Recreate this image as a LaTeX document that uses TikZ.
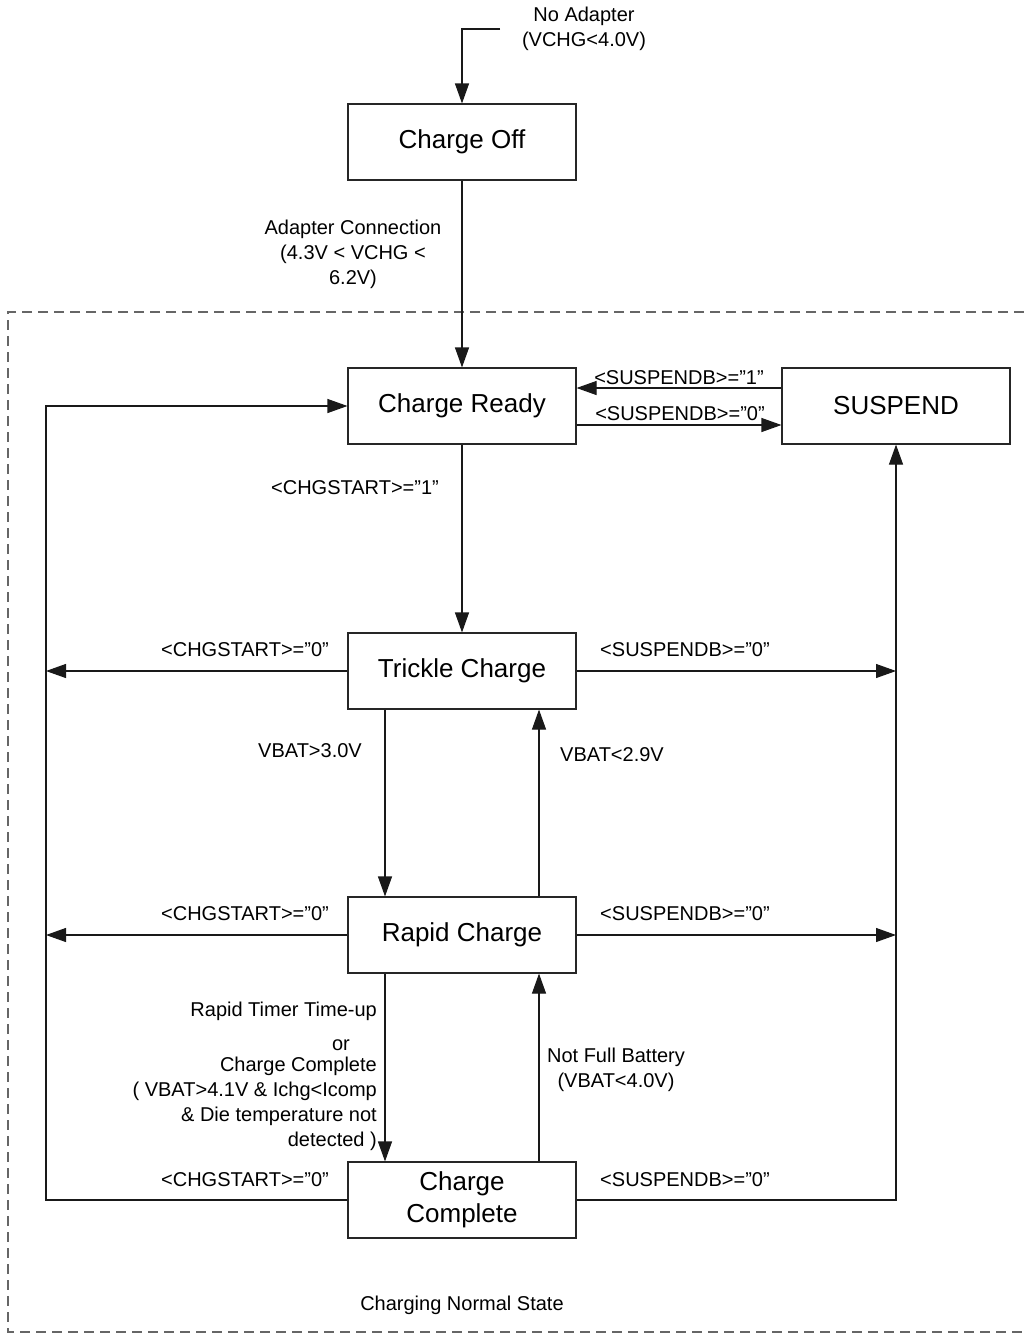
\documentclass[tikz,border=0pt]{standalone}
\usepackage{fontspec}
\setmainfont{Liberation Sans}
\usepackage{tikz}
\usetikzlibrary{calc,arrows.meta,positioning}

\begin{document}
\begin{tikzpicture}[x=1pt,y=-1pt]

  % Parameters
  \def\wstate{228pt}
  \def\hstate{76pt}
  \def\vsep{77pt}

  % Styles
  \tikzstyle{state}=[draw=black!85,line width=1.1pt,text centered,minimum width=\wstate,minimum height=\hstate,inner sep=0pt,font=\fontsize{26}{32}\selectfont]
  \tikzstyle{lbl}=[inner sep=0pt,font=\fontsize{20}{25}\selectfont]
  \tikzstyle{wire}=[draw=black!90,line width=1.1pt]
  \tikzstyle{arr}=[wire,-{Triangle[length=20pt,width=14pt]}]
  \tikzstyle{region}=[draw=black!60,line width=1.1pt,dash pattern=on 10pt off 6pt]

  \useasboundingbox (0,0) rectangle (1024,1334);

  % ===========================================================================

  % Outer region
  \draw[region] (1040,312) -- (8,312) -- (8,1332) -- (1040,1332);
  \node[lbl] (normal) at (462,1305) {Charging Normal State};

  % States
  \node[state] (off) at (462,142) {Charge Off};
  \node[state] (ready) at (462,406) {Charge Ready};
  \node[state] (susp) at (896,406) {SUSPEND};
  \node[state] (trickle) at (462,671) {Trickle Charge};
  \node[state] (rapid) at (462,935) {Rapid Charge};
  \node[state,align=center] (done) at (462,1200) {Charge\\Complete};

  % Bus lines on the left
  \coordinate (lbus) at (46,0);

  % Power on
  \coordinate (start) at (500,29);
  \draw[arr] (start) -| (off.north);
  \node[lbl,align=center] (noadp) at (584,29) {No Adapter\\(VCHG<4.0V)};

  \draw[arr] (off) -- (ready);
  \node[lbl,align=center] (adp) at (353,254) {Adapter Connection\\(4.3V < VCHG <\\6.2V)};

  % Suspend handshake
  \draw[arr] ([yshift=18pt]susp.west) -- ([yshift=18pt]ready.east);
  \node[lbl] (s1) at (679,378) {<SUSPENDB>=”1”};
  \draw[arr] ([yshift=-19pt]ready.east) -- ([yshift=-19pt]susp.west);
  \node[lbl] (s0) at (680,414) {<SUSPENDB>=”0”};

  % Charge sequence
  \draw[arr] (ready) -- (trickle);
  \node[lbl] (c1) at (355,488) {<CHGSTART>=”1”};

  \draw[arr] ([xshift=-\vsep]trickle.south) -- ([xshift=-\vsep]rapid.north);
  \node[lbl] (v30) at (310,751) {VBAT>3.0V};
  \draw[arr] ([xshift=\vsep]rapid.north) -- ([xshift=\vsep]trickle.south);
  \node[lbl] (v29) at (612,755) {VBAT<2.9V};

  \draw[arr] ([xshift=-\vsep]rapid.south) -- ([xshift=-\vsep]done.north);
  \node[lbl,anchor=east] (tmr) at (377,1011) {Rapid Timer Time-up};
  \node[lbl] (or) at (341,1045) {or};
  \node[lbl,anchor=east,align=right] (full) at (377,1104) {Charge Complete\\( VBAT>4.1V \& Ichg<Icomp\\\& Die temperature not\\detected )};
  \draw[arr] ([xshift=\vsep]done.north) -- ([xshift=\vsep]rapid.south);
  \node[lbl,align=center] (nfb) at (616,1070) {Not Full Battery\\(VBAT<4.0V)};

  % Back to Charge Ready
  \draw[arr] (done.west) -- (done.west -| lbus) |- (ready.west);
  \foreach \s in {trickle,rapid}
    \draw[arr] (\s.west) -- (\s.west -| lbus);
  \foreach \s/\y in {trickle/650,rapid/914,done/1180}
    \node[lbl] (cs-\s) at (245,\y) {<CHGSTART>=”0”};

  % To SUSPEND
  \draw[arr] (done.east) -| (susp.south);
  \foreach \s in {trickle,rapid}
    \draw[arr] (\s.east) -- (\s.east -| susp.south);
  \foreach \s/\y in {trickle/650,rapid/914,done/1180}
    \node[lbl] (sp-\s) at (685,\y) {<SUSPENDB>=”0”};

\end{tikzpicture}
\end{document}
